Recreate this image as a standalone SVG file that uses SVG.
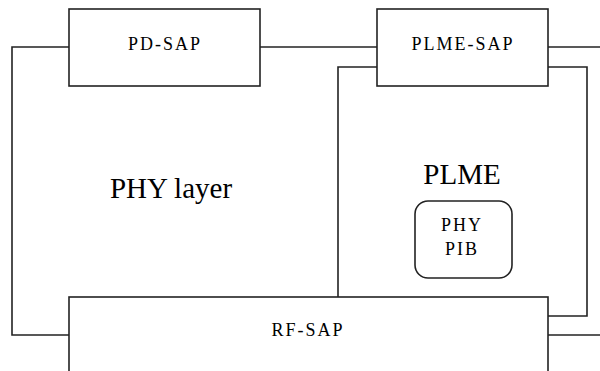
<svg xmlns="http://www.w3.org/2000/svg" width="600" height="371" viewBox="0 0 600 371">
<style>
.box{fill:#fff;stroke:#222;stroke-width:1.6}
.ln{fill:none;stroke:#222;stroke-width:1.6}
text{font-family:"Liberation Serif","Times New Roman",serif;fill:#000;text-anchor:middle}
.sap{font-size:18px;letter-spacing:2px}
.big{font-size:29px}
</style>
<rect width="600" height="371" fill="#fff"/>
<g id="connectors">
<polyline class="ln" points="69,47 12,47 12,335 69,335"/>
<line class="ln" x1="260" y1="47" x2="377" y2="47"/>
<line class="ln" x1="548" y1="47" x2="600" y2="47"/>
<polyline class="ln" points="377,67 338,67 338,297"/>
<polyline class="ln" points="548,67 587,67 587,316 548,316"/>
<line class="ln" x1="548" y1="335" x2="600" y2="335"/>
</g>
<g id="pd-sap">
<rect class="box" x="69" y="9" width="191" height="77"/>
<text class="sap" x="165" y="50">PD-SAP</text>
</g>
<g id="plme-sap">
<rect class="box" x="377" y="9" width="171" height="77"/>
<text class="sap" x="463" y="50">PLME-SAP</text>
</g>
<g id="phy-layer">
<text class="big" x="171" y="198">PHY layer</text>
</g>
<g id="plme">
<text class="big" x="462" y="184">PLME</text>
</g>
<g id="phy-pib">
<rect class="box" x="415" y="201" width="97" height="77" rx="13" ry="13"/>
<text class="sap" x="462" y="231">PHY</text>
<text class="sap" x="462" y="255">PIB</text>
</g>
<g id="rf-sap">
<rect class="box" x="69" y="297" width="479" height="90"/>
<text class="sap" x="308" y="336">RF-SAP</text>
</g>
</svg>
